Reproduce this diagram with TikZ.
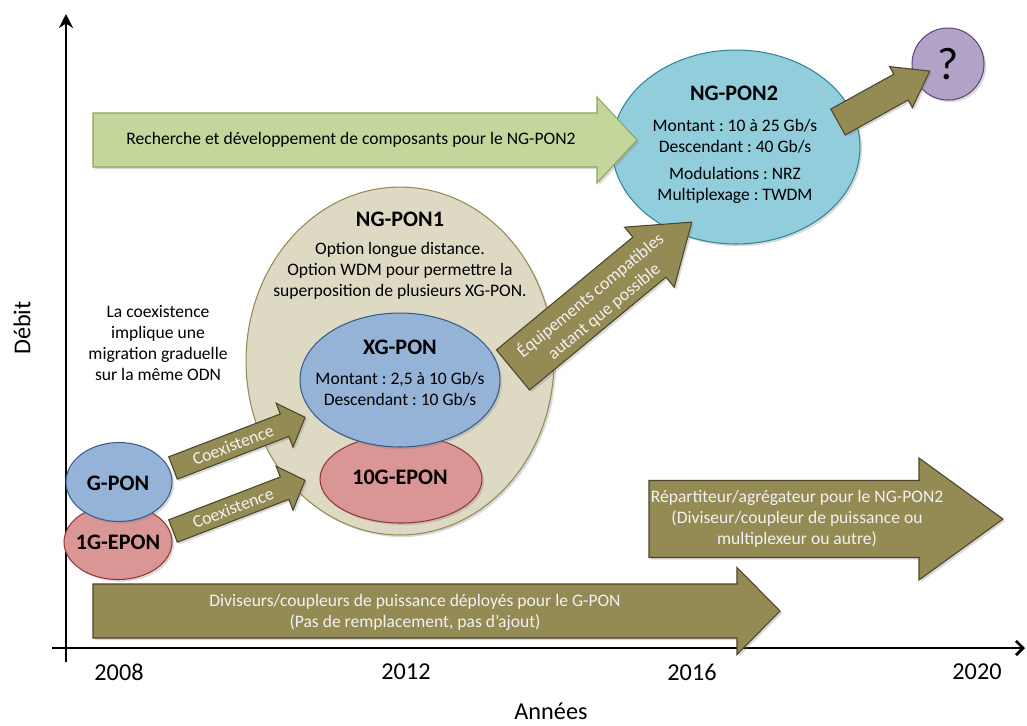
\documentclass[tikz,border=0pt]{standalone}
\usepackage{fontspec}
\setmainfont{Carlito}
\frenchspacing
\usetikzlibrary{shapes.geometric,arrows.meta,shadows}
\definecolor{fondolive}{HTML}{948A54}
\definecolor{bordolive}{HTML}{4A452A}
\definecolor{vertclair}{HTML}{C3D69B}
\definecolor{bordvert}{HTML}{8EA65A}
\definecolor{beigeng}{HTML}{DDD9C3}
\definecolor{bleuxg}{HTML}{95B3D7}
\definecolor{bordbleu}{HTML}{385D8A}
\definecolor{roseep}{HTML}{D99694}
\definecolor{bordrose}{HTML}{953735}
\definecolor{cyanng}{HTML}{92CDDC}
\definecolor{bordcyan}{HTML}{31859C}
\definecolor{mauve}{HTML}{B3A2C7}
\definecolor{bordmauve}{HTML}{5F497A}
\newcommand{\grossefleche}[7]{% style, queue, angle, longueur, demi-corps, demi-tete, longueur tete
  \begin{scope}[shift={#2},rotate=#3]
    \filldraw[#1] (0,-#5) -- (#4-#7,-#5) -- (#4-#7,-#6) -- (#4,0)
      -- (#4-#7,#6) -- (#4-#7,#5) -- (0,#5) -- cycle;
  \end{scope}}

\begin{document}
\begin{tikzpicture}[x=0.02cm,y=-0.02cm,
    every node/.style={font=\fontsize{10}{12}\selectfont,align=center,inner sep=0pt},
    ombre/.style={drop shadow={shadow xshift=1.2pt,shadow yshift=-1.2pt,opacity=.3}},
    bulle/.style={ellipse,draw,line width=0.6pt,ombre},
    titre/.style={font=\fontsize{12.6}{14}\selectfont\bfseries},
    blanc/.style={text=white!95!black},
    fleche/.style={fill=fondolive,draw=bordolive,line width=0.6pt,ombre},
    flechevert/.style={fill=vertclair,draw=bordvert,line width=0.6pt,ombre},
    axe/.style={line width=1.6pt},
    annee/.style={font=\fontsize{13.8}{16}\selectfont}
  ]
  \useasboundingbox (0,0) rectangle (1027,725);

  % axes
  \coordinate (ybas) at (66,662);
  \coordinate (yhaut) at (66,14);
  \coordinate (xgauche) at (52,648);
  \coordinate (xdroite) at (1025,648);
  \draw[axe,-{Stealth[length=8pt,width=8pt]}] (ybas) -- (yhaut);
  \draw[axe,-{Straight Barb[length=4pt,width=8pt]}] (xgauche) -- (xdroite);
  \node[annee,rotate=90] (debit) at (22,328) {Débit};
  \node[annee] (annees) at (551,711) {Années};
  \node[annee] (a2008) at (119,672) {2008};
  \node[annee] (a2012) at (406,672) {2012};
  \node[annee] (a2016) at (692,672) {2016};
  \node[annee] (a2020) at (977,672) {2020};

  % bulles
  \node[bulle,fill=beigeng,draw=fondolive,minimum width=6.16cm,minimum height=6.96cm] (ngponun) at (400,361) {};
  \node[bulle,fill=roseep,draw=bordrose,minimum width=3.24cm,minimum height=1.76cm] (dixgepon) at (401,479) {};
  \node[bulle,fill=bleuxg,draw=bordbleu,minimum width=4cm,minimum height=2.68cm] (xgpon) at (400,380) {};
  \node[bulle,fill=roseep,draw=bordrose,minimum width=2.16cm,minimum height=1.5cm] (ungepon) at (118,542) {};
  \node[bulle,fill=bleuxg,draw=bordbleu,minimum width=2.12cm,minimum height=1.58cm] (gpon) at (119,482) {};
  \node[bulle,fill=cyanng,draw=bordcyan,minimum width=4.96cm,minimum height=3.88cm] (ngpondeux) at (736,147) {};
  \node[circle,draw=bordmauve,fill=mauve,line width=0.6pt,ombre,minimum size=1.44cm] (question) at (948,64) {};

  % grosses fleches
  \grossefleche{flechevert}{(93,140)}{0}{544}{27}{43}{40}
  \grossefleche{fleche}{(173,468)}{21}{141.5}{12}{23.5}{22}
  \grossefleche{fleche}{(173,531)}{21}{141.5}{12}{23.5}{22}
  \grossefleche{fleche}{(513,370)}{39.6}{232}{26}{39}{55}
  \grossefleche{fleche}{(838,122)}{29}{105}{14.8}{23.5}{33}
  \grossefleche{fleche}{(93,611)}{0}{687}{27}{43.5}{43}
  \grossefleche{fleche}{(649,519)}{0}{354}{38.5}{61}{84}

  % textes
  \node (recherche) at (351,140) {Recherche et développement de composants pour le NG-PON2};
  \node[titre] (tngpondeux) at (734,93) {NG-PON2};
  \node (debits2) at (735,136) {Montant : 10 à 25 Gb/s\\Descendant : 40 Gb/s};
  \node (modul2) at (735,185) {Modulations : NRZ\\Multiplexage : TWDM};
  \node[font=\fontsize{26}{28}\selectfont] (tquestion) at (question) {?};
  \node[titre] (tngponun) at (400,219) {NG-PON1};
  \node (options1) at (400,271) {Option longue distance.\\Option WDM pour permettre la\\superposition de plusieurs XG-PON.};
  \node[titre] (txgpon) at (400,347) {XG-PON};
  \node (debitsxg) at (400,389) {Montant : 2,5 à 10 Gb/s\\Descendant : 10 Gb/s};
  \node[titre] (tdixgepon) at (400,477) {10G-EPON};
  \node[titre] (tgpon) at (118,483) {G-PON};
  \node[titre] (tungepon) at (118,542) {1G-EPON};
  \node (migration) at (158,343) {La coexistence\\implique une\\migration graduelle\\sur la même ODN};
  \node[blanc,rotate=21] (coexun) at (233,445) {Coexistence};
  \node[blanc,rotate=21] (coexdeux) at (233,508) {Coexistence};
  \node[blanc,rotate=39.6] (equipements) at (597,303) {Équipements compatibles\\autant que possible};
  \node[blanc] (diviseurs) at (415,612) {Diviseurs/coupleurs de puissance déployés pour le G-PON\\(Pas de remplacement, pas d’ajout)};
  \node[blanc] (repartiteur) at (797,519) {Répartiteur/agrégateur pour le NG-PON2\\(Diviseur/coupleur de puissance ou\\multiplexeur ou autre)};
\end{tikzpicture}
\end{document}
